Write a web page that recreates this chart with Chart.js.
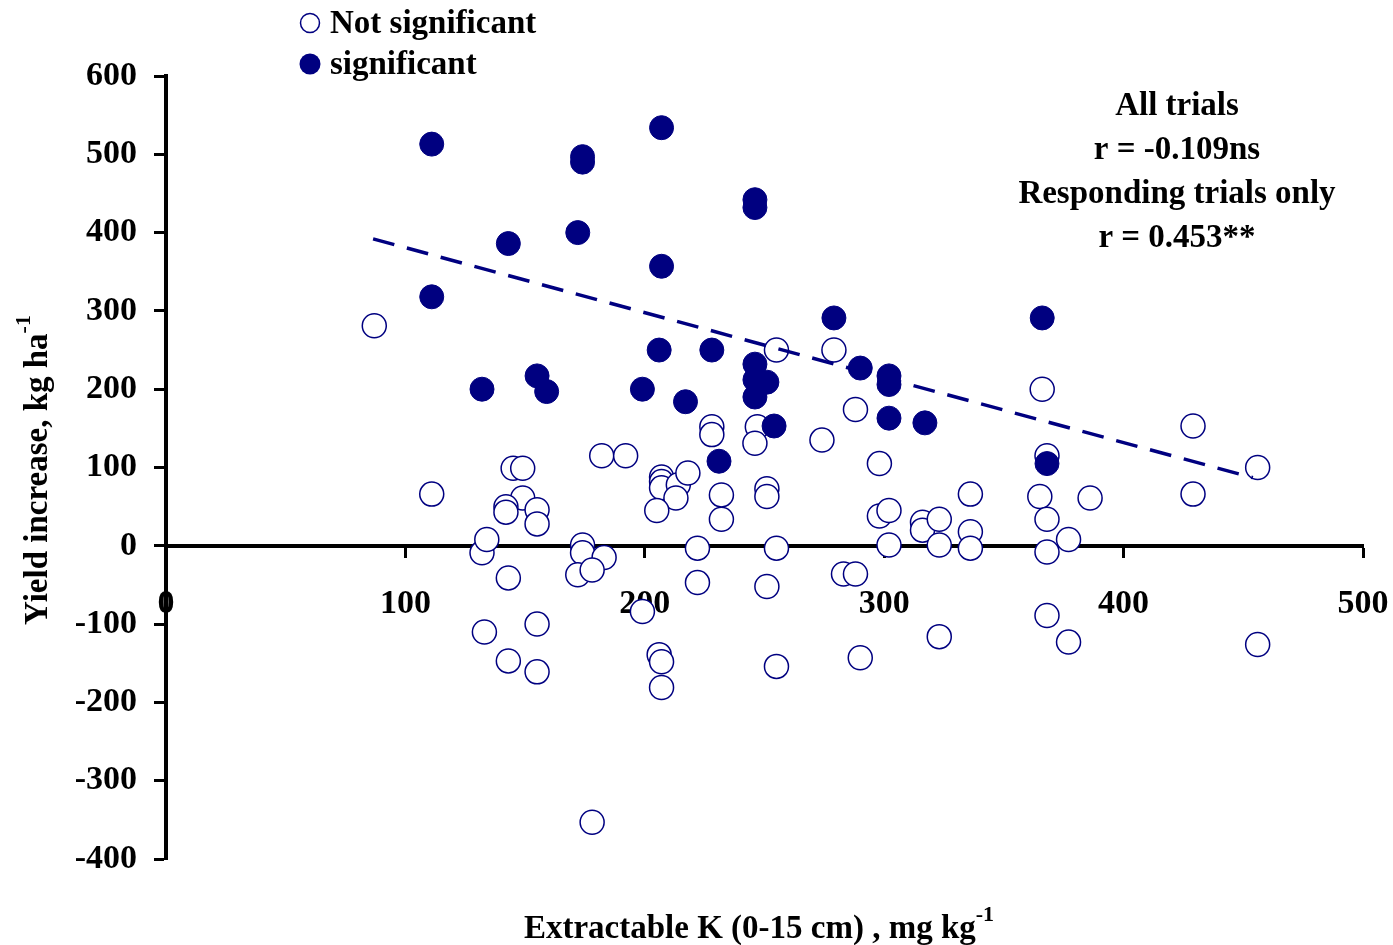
<!DOCTYPE html>
<html>
<head>
<meta charset="utf-8">
<script src="https://cdn.jsdelivr.net/npm/chart.js@4"></script>
<style>
  html, body { margin: 0; padding: 0; background: #fff; }
  #wrap { width: 1393px; height: 945px; }
</style>
</head>
<body>
<div id="wrap"><canvas id="chart"></canvas></div>
<script>
// Significant responses (filled circles)
const sigK = [111, 111, 132, 143, 155, 159, 172, 174, 174, 199, 207, 207, 206, 217, 228, 231, 246, 246, 246, 246, 251, 246, 254, 279, 290, 302, 302, 302, 317, 366, 368];
const sigYield = [513, 318, 200, 386, 217, 197, 400, 497, 490, 200, 534, 357, 250, 184, 250, 108, 442, 432, 232, 212, 209, 190, 153, 291, 227, 217, 206, 163, 157, 291, 105];

// Not significant responses (open circles)
const nsK = [87, 111, 132, 134, 133, 143, 143, 145, 149, 149, 142, 142, 155, 155, 155, 155, 182, 192, 174, 174, 183, 172, 178, 178, 199, 207, 207, 207, 214, 218, 213, 205, 206, 207, 207, 228, 228, 232, 232, 222, 222, 247, 246, 251, 251, 255, 251, 255, 255, 279, 274, 288, 298, 298, 302, 302, 283, 288, 290, 316, 316, 323, 323, 323, 336, 336, 336, 366, 365, 368, 368, 368, 368, 377, 377, 386, 429, 429, 456, 456];
const nsYield = [281, 66, -9, 8, -110, -147, -41, 99, 99, 61, 50, 43, 46, 28, -100, -161, 115, 115, 1, -9, -15, -37, -31, -353, -84, 88, 82, 74, 78, 93, 61, 45, -139, -148, -181, 152, 142, 65, 34, -3, -47, 152, 131, 73, 63, -3, -52, -154, 250, 250, 135, 174, 105, 38, 45, 1, -36, -36, -143, 30, 20, 34, 1, -116, 66, 18, -3, 200, 63, 115, 34, -8, -89, 8, -123, 61, 153, 66, 100, -126];

// Regression line for responding trials (end points)
const trendK = [86.5, 454];
const trendYield = [392, 87];

const xTicks = [0, 100, 200, 300, 400, 500];
const yTicks = [-400, -300, -200, -100, 0, 100, 200, 300, 400, 500, 600];

const legendLabels = ["Not significant", "significant"];
const noteLines = ["All trials", "r = -0.109ns", "Responding trials only", "r = 0.453**"];

const navy = "#000080";
const font = "Liberation Serif, Times New Roman, serif";

const toPoints = (xs, ys) => xs.map((x, i) => ({ x: x, y: ys[i] }));

// draws legend, axis titles and the r-value note
const textPlugin = {
  id: "texts",
  afterDraw(chart) {
    const ctx = chart.ctx;
    ctx.save();
    ctx.fillStyle = "#000";
    ctx.textBaseline = "middle";
    ctx.font = "bold 33px " + font;

    // legend
    ctx.strokeStyle = navy;
    ctx.lineWidth = 1.5;
    ctx.beginPath();
    ctx.arc(310, 23, 9.5, 0, Math.PI * 2);
    ctx.fillStyle = "#fff";
    ctx.fill();
    ctx.stroke();
    ctx.beginPath();
    ctx.arc(310, 64, 10.5, 0, Math.PI * 2);
    ctx.fillStyle = navy;
    ctx.fill();
    ctx.fillStyle = "#000";
    ctx.textAlign = "left";
    ctx.fillText(legendLabels[0], 330, 24);
    ctx.fillText(legendLabels[1], 330, 65);

    // note
    ctx.textAlign = "center";
    noteLines.forEach((t, i) => ctx.fillText(t, 1177, 106 + i * 44));

    // x title with superscript
    const xMain = "Extractable K (0-15 cm) , mg kg";
    const sup = "-1";
    const w1 = ctx.measureText(xMain).width;
    ctx.font = "bold 22px " + font;
    const w2 = ctx.measureText(sup).width;
    let sx = 759 - (w1 + w2) / 2;
    ctx.textAlign = "left";
    ctx.font = "bold 33px " + font;
    ctx.fillText(xMain, sx, 929);
    ctx.font = "bold 22px " + font;
    ctx.fillText(sup, sx + w1, 915);

    // y title rotated
    const yMain = "Yield increase, kg ha";
    ctx.translate(38, 470);
    ctx.rotate(-Math.PI / 2);
    ctx.font = "bold 33px " + font;
    const h1 = ctx.measureText(yMain).width;
    ctx.font = "bold 22px " + font;
    const h2 = ctx.measureText(sup).width;
    sx = -(h1 + h2) / 2;
    ctx.font = "bold 33px " + font;
    ctx.fillText(yMain, sx, 0);
    ctx.font = "bold 22px " + font;
    ctx.fillText(sup, sx + h1, -14);
    ctx.restore();
  }
};

new Chart(document.getElementById("chart"), {
  type: "scatter",
  data: {
    datasets: [
      {
        label: legendLabels[1],
        data: toPoints(sigK, sigYield),
        backgroundColor: navy,
        borderColor: navy,
        borderWidth: 1,
        pointRadius: 12,
        order: 0
      },
      {
        label: "trend",
        type: "line",
        data: toPoints(trendK, trendYield),
        borderColor: navy,
        borderWidth: 3.5,
        borderDash: [22, 13],
        pointRadius: 0,
        fill: false,
        order: 1
      },
      {
        label: legendLabels[0],
        data: toPoints(nsK, nsYield),
        backgroundColor: "#fff",
        borderColor: navy,
        borderWidth: 1.5,
        pointRadius: 12,
        order: 2
      }
    ]
  },
  options: {
    responsive: true,
    maintainAspectRatio: false,
    animation: false,
    layout: { padding: { top: 76, bottom: 86, left: 0, right: 30 } },
    plugins: {
      legend: { display: false },
      tooltip: { enabled: false }
    },
    scales: {
      x: {
        type: "linear",
        position: { y: 0 },
        min: 0,
        max: 500,
        afterBuildTicks: s => { s.ticks = xTicks.map(v => ({ value: v })); },
        afterFit: s => { s.height = 0; s.paddingLeft = 0; s.paddingRight = 0; },
        grid: { drawOnChartArea: false, drawTicks: true, tickLength: 10, tickWidth: 3, tickColor: "#000" },
        border: { display: true, color: "#000", width: 4 },
        ticks: { color: "#000", padding: 28, maxRotation: 0, font: { family: font, size: 34, weight: "bold" } }
      },
      y: {
        type: "linear",
        position: "left",
        min: -400,
        max: 600,
        afterBuildTicks: s => { s.ticks = yTicks.map(v => ({ value: v })); },
        afterFit: s => { s.width = 166; },
        grid: { drawOnChartArea: false, drawTicks: true, tickLength: 12, tickWidth: 3, tickColor: "#000" },
        border: { display: true, color: "#000", width: 4 },
        ticks: { color: "#000", padding: 17, font: { family: font, size: 34, weight: "bold" } }
      }
    }
  },
  plugins: [textPlugin]
});
</script>
</body>
</html>
